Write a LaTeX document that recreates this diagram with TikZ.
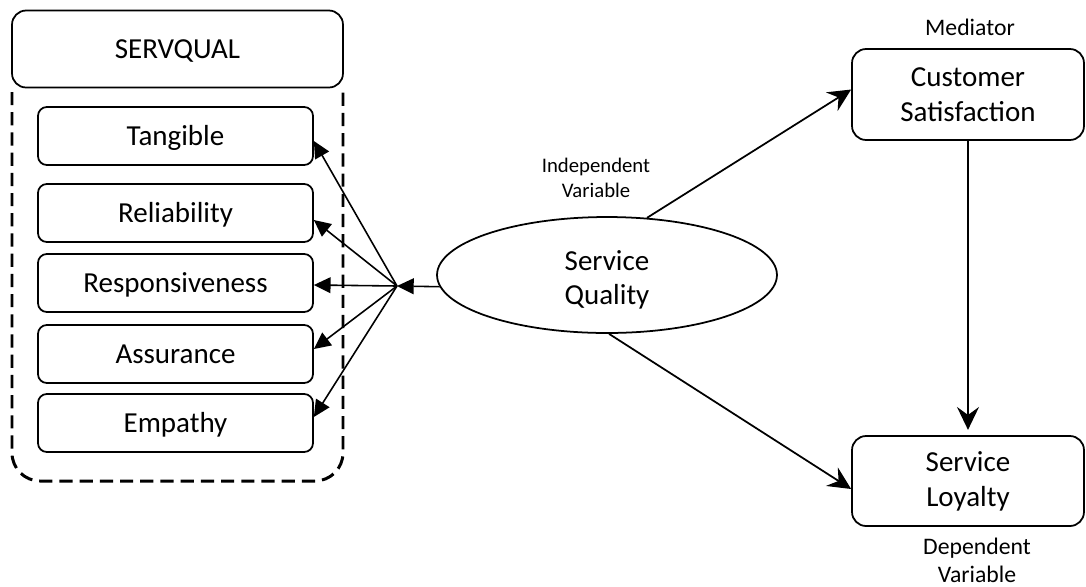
\documentclass[tikz,border=0pt]{standalone}
\usepackage{fontspec}
\setmainfont{Carlito}
\usetikzlibrary{shapes.geometric,arrows.meta,calc}
\begin{document}
\begin{tikzpicture}[x=0.02cm,y=-0.02cm,
  box/.style={draw,line width=1pt,rounded corners=8pt,align=center,inner sep=0pt,
    font=\fontsize{16.5}{20}\selectfont},
  item/.style={box,rounded corners=5pt,minimum width=5.5cm,minimum height=1.16cm,
    text height=12pt,text depth=1.4pt},
  small/.style={align=center,inner sep=0pt},
  tri/.style={-{Triangle[length=9.5pt,width=9pt]},line width=0.9pt},
  stl/.style={-{Stealth[length=13pt,width=12.5pt,inset=4.5pt]},line width=1pt}]
\useasboundingbox (0,0) rectangle (1086,586);
% dashed group frame
\draw[line width=1.7pt,dash pattern=on 7.5pt off 4pt,rounded corners=16pt]
  (12,92) -- (12,481) -- (343,481) -- (343,92);
\node[box,fill=white,minimum width=6.62cm,minimum height=1.54cm,
  text height=12pt,text depth=1.4pt] (sv) at (177.5,49) {SERVQUAL};
\node[item] (tang) at (175.5,136) {Tangible};
\node[item] (rel) at (175.5,213) {Reliability};
\node[item] (resp) at (175.5,283) {Responsiveness};
\node[item] (ass) at (175.5,354) {Assurance};
\node[item] (emp) at (175.5,423) {Empathy};
% service quality
\node[draw,ellipse,line width=1pt,minimum width=6.8cm,minimum height=2.32cm,inner sep=0pt] (sq) at (607,275) {};
\node[small,font=\fontsize{16.5}{19}\selectfont] (sqt) at (607,280) {Service\\Quality};
\node[small,font=\fontsize{11.8}{14.5}\selectfont] (iv) at (596,178) {Independent\\Variable};
% right boxes
\node[box,minimum width=4.64cm,minimum height=1.82cm] (cs) at (968,94.5) {Customer\\Satisfaction};
\node[box,minimum width=4.64cm,minimum height=1.8cm] (sl) at (968,481) {Service\\Loyalty};
\node[small,font=\fontsize{13.5}{16}\selectfont] (med) at (970,27) {Mediator};
\node[small,font=\fontsize{13.5}{16}\selectfont] (dv) at (977,560) {Dependent\\Variable};
% hub
\coordinate (hub) at (397,286);
\draw[tri] (sq.184) -- (hub);
\draw[tri] (hub) -- ($(tang.east)+(0,5)$);
\draw[tri] (hub) -- ($(rel.east)+(0,7)$);
\draw[tri] (hub) -- ($(resp.east)+(0,2)$);
\draw[tri] (hub) -- ($(ass.east)+(0,-5)$);
\draw[tri] (hub) -- ($(emp.east)+(0,-6)$);
% structural paths
\draw[stl] (sq.55) -- ($(cs.west)+(0,-5)$);
\draw[stl] (sq.272) -- ($(sl.west)+(0,8)$);
\draw[stl,shorten >=3pt] (cs.south) -- (sl.north);
\end{tikzpicture}
\end{document}
